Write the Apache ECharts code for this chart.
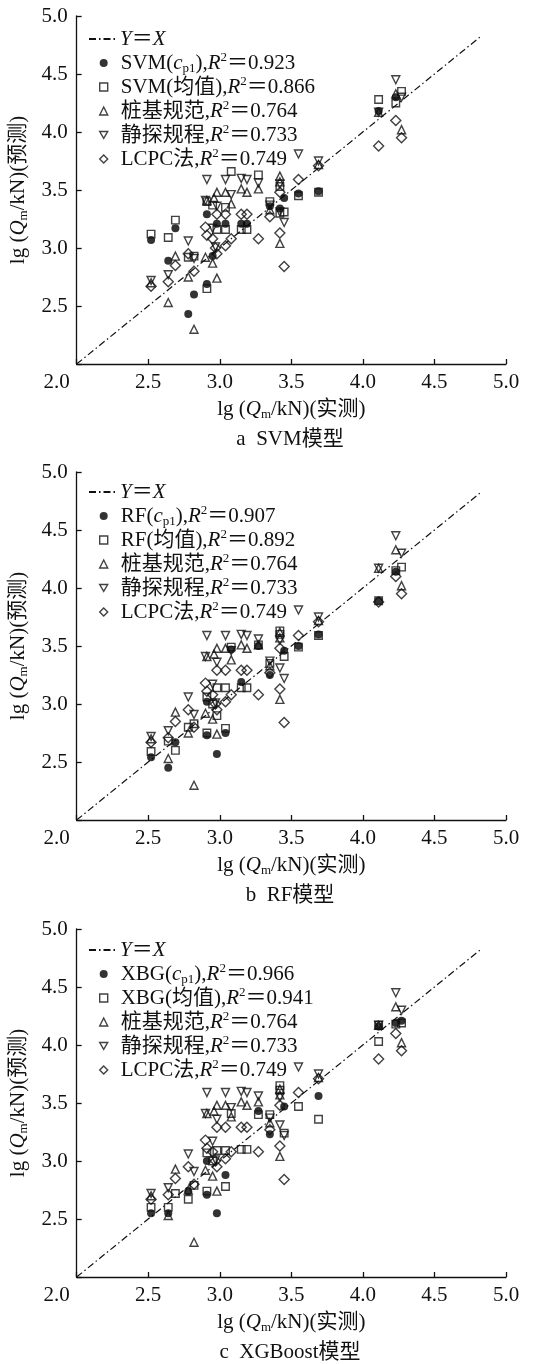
<!DOCTYPE html>
<html>
<head>
<meta charset="utf-8">
<script src="https://cdn.jsdelivr.net/npm/echarts@6/dist/echarts.min.js"></script>
<style>
  html, body { margin: 0; padding: 0; background: #fff; }
  #chart { width: 542px; height: 1364px; }
</style>
</head>
<body>
<div id="chart"></div>
<script>
// ---- data: lg(Q/kN), measured (x) vs predicted (y) ----
const axisTicks = [2.0, 2.5, 3.0, 3.5, 4.0, 4.5, 5.0];
const identityLine = [[2.0, 2.0], [4.82, 4.82]];

// design-code methods (same in every panel)
const pileCode = [[2.52,2.70],[2.64,2.53],[2.69,2.93],[2.78,2.75],[2.82,2.30],[2.90,2.92],[2.91,3.41],[2.95,2.87],[2.96,3.43],[2.98,2.74],[2.98,3.48],[3.04,3.48],[3.08,3.38],[3.15,3.51],[3.19,3.48],[3.27,3.51],[3.35,3.33],[3.42,3.62],[3.42,3.57],[3.42,3.04],[3.69,3.72],[4.11,4.17],[4.23,4.33],[4.27,4.02]];
const cptCode = [[2.52,2.72],[2.64,2.77],[2.78,3.06],[2.82,2.91],[2.90,3.41],[2.91,3.59],[2.95,3.17],[2.97,3.01],[2.98,3.36],[3.04,3.59],[3.08,3.46],[3.15,3.60],[3.19,3.59],[3.27,3.56],[3.35,3.37],[3.42,3.55],[3.42,3.31],[3.45,3.22],[3.55,3.81],[3.69,3.75],[4.11,4.17],[4.23,4.45],[4.27,4.30]];
const lcpcMethod = [[2.52,2.67],[2.64,2.71],[2.69,2.85],[2.78,2.95],[2.82,2.80],[2.90,3.18],[2.91,3.11],[2.95,3.08],[2.97,3.00],[2.98,2.95],[2.98,3.29],[3.04,3.29],[3.04,3.02],[3.08,3.08],[3.15,3.29],[3.19,3.29],[3.27,3.08],[3.35,3.27],[3.42,3.48],[3.42,3.13],[3.45,2.84],[3.55,3.59],[3.69,3.71],[4.11,3.88],[4.23,4.10],[4.27,3.95]];

// machine-learning models
const svmCp1 = [[2.52,3.07],[2.64,2.89],[2.69,3.17],[2.78,2.43],[2.82,2.60],[2.91,2.69],[2.91,3.29],[2.95,2.93],[2.98,3.21],[3.04,3.21],[3.15,3.21],[3.19,3.21],[3.35,3.36],[3.42,3.34],[3.45,3.43],[3.55,3.47],[3.69,3.49],[4.11,4.18],[4.23,4.30]];
const svmMean = [[2.52,3.12],[2.64,3.09],[2.69,3.24],[2.78,2.92],[2.82,2.93],[2.91,2.65],[2.91,3.40],[2.95,3.37],[2.98,3.16],[3.04,3.16],[3.04,3.35],[3.08,3.66],[3.15,3.16],[3.19,3.16],[3.27,3.63],[3.35,3.40],[3.42,3.53],[3.42,3.30],[3.45,3.31],[3.55,3.45],[3.69,3.48],[4.11,4.28],[4.23,4.25],[4.27,4.35]];
const rfCp1 = [[2.52,2.54],[2.64,2.45],[2.69,2.67],[2.91,3.02],[2.91,2.73],[2.98,2.57],[3.04,2.75],[3.08,3.47],[3.15,3.19],[3.27,3.50],[3.35,3.25],[3.45,3.46],[3.55,3.50],[3.69,3.60],[4.11,3.89],[4.23,4.14]];
const rfMean = [[2.52,2.59],[2.64,2.68],[2.69,2.60],[2.78,2.80],[2.82,2.83],[2.91,2.75],[2.91,3.06],[2.95,3.00],[2.98,3.14],[2.98,2.90],[3.04,2.79],[3.04,3.14],[3.08,3.49],[3.15,3.14],[3.19,3.14],[3.27,3.51],[3.35,3.35],[3.42,3.63],[3.42,3.60],[3.45,3.41],[3.55,3.49],[3.69,3.59],[4.11,3.89],[4.23,4.15],[4.27,4.18]];
const xbgCp1 = [[2.52,2.55],[2.64,2.55],[2.78,2.74],[2.91,3.00],[2.91,2.71],[2.98,2.55],[3.04,2.88],[3.27,3.43],[3.35,3.23],[3.45,3.47],[3.69,3.56],[4.11,4.16],[4.23,4.19],[4.27,4.21]];
const xbgMean = [[2.52,2.60],[2.64,2.60],[2.69,2.72],[2.78,2.67],[2.82,2.79],[2.91,3.07],[2.91,2.74],[2.95,3.00],[2.98,3.09],[3.04,2.78],[3.04,3.09],[3.08,3.41],[3.15,3.10],[3.19,3.10],[3.27,3.40],[3.35,3.40],[3.42,3.65],[3.42,3.61],[3.45,3.24],[3.55,3.47],[3.69,3.36],[4.11,4.17],[4.11,4.03],[4.23,4.18],[4.27,4.19]];

const modelTags = ['SVM', 'RF', 'XBG'];
const modelCp1 = [svmCp1, rfCp1, xbgCp1];
const modelMean = [svmMean, rfMean, xbgMean];
const r2Cp1 = [0.923, 0.907, 0.966];
const r2Mean = [0.866, 0.892, 0.941];
const codeNames = ['桩基规范', '静探规程', 'LCPC法'];
const codeR2 = [0.764, 0.733, 0.749];
const panelCaptions = ['a  SVM模型', 'b  RF模型', 'c  XGBoost模型'];

// ---- layout ----
const SERIF = '"Liberation Serif", "Times New Roman", "Noto Sans CJK SC", serif';
const INK = '#111';
const plotLeft = 74, plotWidth = 432, plotHeight = 348;
const plotTops = [16, 472, 929];
const legendTops = [27, 480, 938];
const ROW = 24;

const richBase = {
  t:   { fontFamily: SERIF, fontSize: 21, color: INK, lineHeight: ROW },
  i:   { fontFamily: SERIF, fontSize: 21, color: INK, lineHeight: ROW, fontStyle: 'italic' },
  sub: { fontFamily: SERIF, fontSize: 13, color: INK, verticalAlign: 'bottom' },
  sup: { fontFamily: SERIF, fontSize: 13, color: INK, verticalAlign: 'top' }
};

const r2Lookup = {};
modelTags.forEach((m, k) => {
  r2Lookup[m + '(cp1)'] = r2Cp1[k];
  r2Lookup[m + '(均值)'] = r2Mean[k];
});
codeNames.forEach((n, k) => { r2Lookup[n] = codeR2[k]; });

function r2Text(v) { return '{i|R}{sup|2}{t|＝' + v.toFixed(3) + '}'; }

function legendLabel(name) {
  if (name === 'Y=X') return '{i|Y}{t|＝}{i|X}';
  const r = r2Lookup[name];
  const m = name.match(/^(\w+)\(cp1\)$/);
  if (m) return '{t|' + m[1] + '(}{i|c}{sub|p1}{t|),}' + r2Text(r);
  return '{t|' + name + ',}' + r2Text(r);
}

const qName = (tail) => '{t|lg (}{i|Q}{sub|m}{t|/kN)' + tail + '}';

const hollow = { color: 'rgba(0,0,0,0)', borderColor: INK, borderWidth: 1.4 };
const solid = { color: '#000', borderColor: '#000', borderWidth: 0 };
const downTriangle = 'path://M0,0L10,0L5,8.66Z';

const option = {
  animation: false,
  backgroundColor: '#fff',
  grid: [], xAxis: [], yAxis: [], legend: [], series: [], graphic: []
};

for (let k = 0; k < 3; k++) {
  option.grid.push({ left: plotLeft, top: plotTops[k], width: plotWidth, height: plotHeight, containLabel: false });

  const axisCommon = {
    gridIndex: k, type: 'value', min: axisTicks[0], max: axisTicks[axisTicks.length - 1], interval: 0.5,
    axisLine: { show: true, onZero: false, lineStyle: { color: INK, width: 1.3 } },
    axisTick: { show: true, inside: true, length: 5, lineStyle: { color: INK, width: 1.3 } },
    splitLine: { show: false },
    nameLocation: 'middle',
    nameTextStyle: { rich: richBase }
  };

  option.xAxis.push(Object.assign({}, axisCommon, {
    name: qName('(实测)'), nameGap: 33,
    axisLabel: {
      margin: 8, color: INK, fontFamily: SERIF, fontSize: 21,
      formatter: v => v === axisTicks[0] ? '{first|' + v.toFixed(1) + '}' : v.toFixed(1),
      rich: { first: { fontFamily: SERIF, fontSize: 21, color: INK, padding: [0, 40, 0, 0] } }
    }
  }));

  option.yAxis.push(Object.assign({}, axisCommon, {
    name: qName('(预测)'), nameGap: 43,
    axisLabel: {
      margin: 9, color: INK, fontFamily: SERIF, fontSize: 21,
      formatter: v => v === axisTicks[0] ? '' : v.toFixed(1)
    }
  }));

  const tag = modelTags[k];

  // reference line entry
  option.legend.push({
    orient: 'vertical', left: 88, top: legendTops[k], padding: 0,
    itemGap: 0, itemWidth: 26, itemHeight: 8, selectedMode: false,
    data: [{ name: 'Y=X' }],
    formatter: legendLabel,
    textStyle: { rich: richBase, lineHeight: ROW }
  });
  // marker entries
  option.legend.push({
    orient: 'vertical', left: 99, top: legendTops[k] + ROW, padding: 0,
    itemGap: 0, itemWidth: 8, itemHeight: 8, selectedMode: false,
    data: [
      { name: tag + '(cp1)', icon: 'circle', itemStyle: solid },
      { name: tag + '(均值)', icon: 'rect', itemStyle: hollow },
      { name: codeNames[0], icon: 'triangle', itemStyle: hollow },
      { name: codeNames[1], icon: downTriangle, itemStyle: hollow },
      { name: codeNames[2], icon: 'diamond', itemStyle: hollow }
    ],
    formatter: legendLabel,
    textStyle: { rich: richBase, lineHeight: ROW, padding: [0, 0, 0, 8] }
  });

  option.series.push(
    {
      type: 'line', name: 'Y=X', xAxisIndex: k, yAxisIndex: k, data: identityLine,
      symbol: 'none', silent: true,
      itemStyle: { color: 'rgba(0,0,0,0)' },
      lineStyle: { color: INK, width: 1.2, type: [7, 3, 1.5, 3] }, z: 1
    },
    { type: 'scatter', name: tag + '(cp1)', xAxisIndex: k, yAxisIndex: k, data: modelCp1[k],
      symbol: 'circle', symbolSize: 8, itemStyle: solid },
    { type: 'scatter', name: tag + '(均值)', xAxisIndex: k, yAxisIndex: k, data: modelMean[k],
      symbol: 'rect', symbolSize: 7.5, itemStyle: hollow },
    { type: 'scatter', name: codeNames[0], xAxisIndex: k, yAxisIndex: k, data: pileCode,
      symbol: 'triangle', symbolSize: 8, itemStyle: hollow },
    { type: 'scatter', name: codeNames[1], xAxisIndex: k, yAxisIndex: k, data: cptCode,
      symbol: 'triangle', symbolRotate: 180, symbolSize: 8, itemStyle: hollow },
    { type: 'scatter', name: codeNames[2], xAxisIndex: k, yAxisIndex: k, data: lcpcMethod,
      symbol: 'diamond', symbolSize: 10, itemStyle: hollow }
  );

  option.graphic.push({
    type: 'text', x: plotLeft + plotWidth / 2, y: plotTops[k] + plotHeight + 75,
    style: { text: panelCaptions[k], font: '21px ' + SERIF, fill: INK,
             textAlign: 'center', textVerticalAlign: 'middle' }
  });
}

const chart = echarts.init(document.getElementById('chart'), null, { renderer: 'canvas' });
chart.setOption(option);
</script>
</body>
</html>
